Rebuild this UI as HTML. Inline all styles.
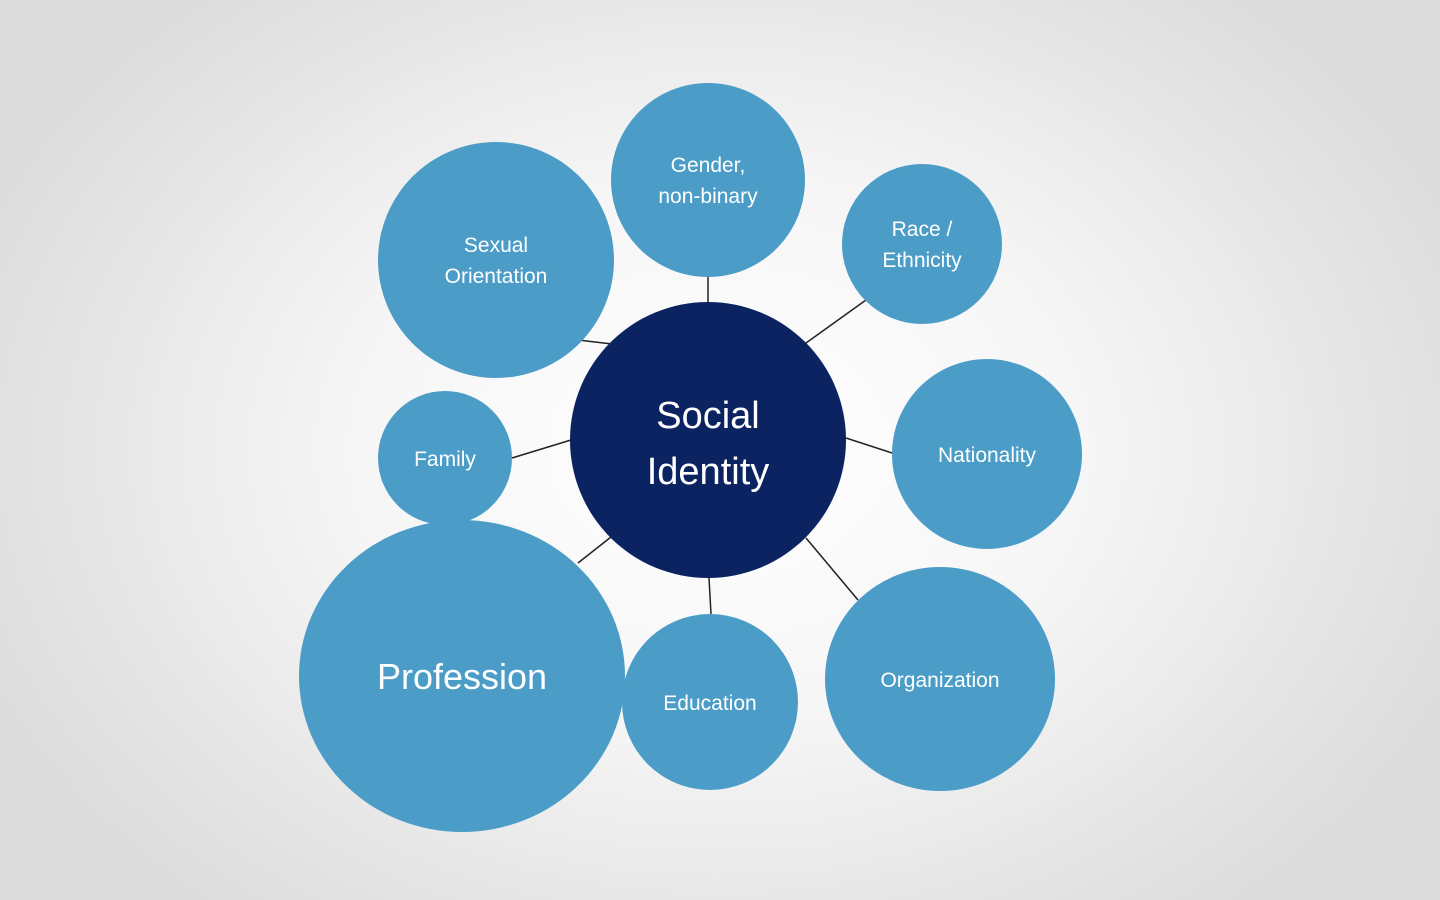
<!DOCTYPE html>
<html><head><meta charset="utf-8"><style>
html,body{margin:0;padding:0;width:1440px;height:900px;overflow:hidden}
body{background:radial-gradient(ellipse 800px 600px at 720px 450px,#ffffff 0%,#f6f6f6 45%,#dcdcdc 100%)}
</style></head><body>
<svg width="1440" height="900" xmlns="http://www.w3.org/2000/svg" style="position:absolute;left:0;top:0">
<g stroke="#222" stroke-width="1.5">
<line x1="708" y1="277" x2="708" y2="302"/>
<line x1="866" y1="300" x2="806" y2="343"/>
<line x1="846" y1="438" x2="892" y2="453"/>
<line x1="806" y1="538" x2="858" y2="600"/>
<line x1="709" y1="578" x2="711" y2="614"/>
<line x1="611" y1="537" x2="578" y2="563"/>
<line x1="512" y1="458" x2="571" y2="440"/>
<line x1="578" y1="340" x2="612" y2="344"/>
</g>
<g fill="#4b9dc8">
<circle cx="708" cy="180" r="97"/>
<circle cx="496" cy="260" r="118"/>
<circle cx="922" cy="244" r="80"/>
<circle cx="987" cy="454" r="95"/>
<circle cx="445" cy="458" r="67"/>
<ellipse cx="462" cy="676" rx="163" ry="156"/>
<circle cx="710" cy="702" r="88"/>
<ellipse cx="940" cy="679" rx="115" ry="112"/>
</g>
<circle cx="708" cy="440" r="138" fill="#0b2461"/>
<g fill="#fff" font-family="Liberation Sans, sans-serif" text-anchor="middle" font-size="21">
<text x="708" y="172">Gender,</text><text x="708" y="203">non-binary</text>
<text x="496" y="252">Sexual</text><text x="496" y="283">Orientation</text>
<text x="922" y="236">Race /</text><text x="922" y="267">Ethnicity</text>
<text x="987" y="462">Nationality</text>
<text x="445" y="466">Family</text>
<text x="710" y="710">Education</text>
<text x="940" y="687">Organization</text>
<text x="462" y="689" font-size="36">Profession</text>
<text x="708" y="428" font-size="38">Social</text>
<text x="708" y="484" font-size="38">Identity</text>
</g>
</svg>
</body></html>
